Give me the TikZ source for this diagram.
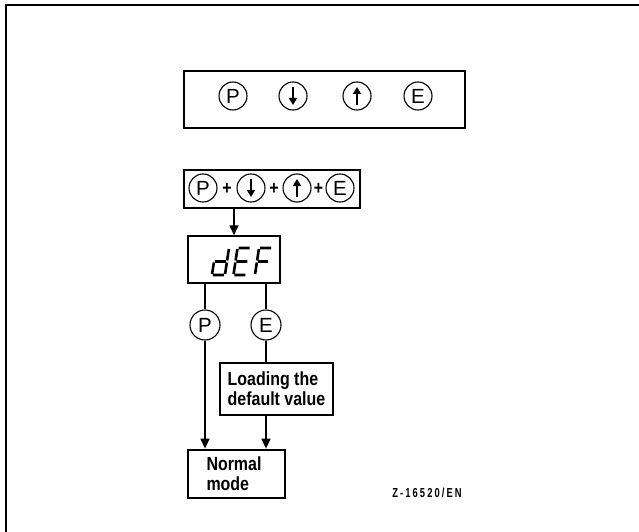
\documentclass[tikz,border=0pt]{standalone}
\usepackage{fontspec}
\setmainfont{Liberation Sans}
\newfontfamily\boxfont[FakeStretch=0.84]{Liberation Sans Bold}
\newfontfamily\codefont[FakeStretch=0.72,LetterSpace=16]{Liberation Sans Bold}
\usetikzlibrary{arrows.meta,positioning}

\tikzset{
  key/.style={circle,draw,line width=1.1pt,minimum size=28pt,inner sep=0pt,font=\fontsize{20.5}{20}\selectfont},
  keydn/.style={key,path picture={\draw[line width=2.2pt,-{Triangle[length=7pt,width=8pt]}]
      ([yshift=9pt]path picture bounding box.center)--([yshift=-9pt]path picture bounding box.center);}},
  keyup/.style={key,path picture={\draw[line width=2.2pt,-{Triangle[length=7pt,width=8pt]}]
      ([yshift=-9pt]path picture bounding box.center)--([yshift=9pt]path picture bounding box.center);}},
  frame/.style={draw,line width=2pt,inner sep=0pt},
  plus/.style={inner sep=0pt,font=\boxfont\fontsize{19}{19}\selectfont},
  txtbox/.style={draw,line width=2.8pt,align=left,font=\boxfont\fontsize{19}{20}\selectfont}
}

\begin{document}
\begin{tikzpicture}[x=1pt,y=-1pt,line width=1.5pt,>={Triangle[length=10pt,width=9pt]}]
  \useasboundingbox (0,0) rectangle (639,532);
  \draw[line width=1.2pt] (6,532)--(6,5)--(639,5);
  % panel de teclas
  \node[frame,minimum width=281pt,minimum height=57pt] (panel) at (324.5,99.5) {};
  \node[key] (pp) at (233,96) {P};
  \node[keydn] (pdn) at (293,96) {};
  \node[keyup] (pup) at (357,96) {};
  \node[key] (pe) at (418,96) {E};
  % combinacion P+abajo+arriba+E
  \node[frame,line width=1.4pt,minimum width=176pt,minimum height=38pt] (combo) at (272,189) {};
  \node[key] (cp) at (203,188) {P};
  \node[keydn] (cdn) at (251,188) {};
  \node[keyup] (cup) at (297,188) {};
  \node[key] (ce) at (340,188) {E};
  \node[plus] (plusa) at (227,188.5) {+};
  \node[plus] (plusb) at (274,188.5) {+};
  \node[plus] (plusc) at (318.5,188.5) {+};
  % display dEF
  \node[frame,line width=1.5pt,minimum width=92pt,minimum height=47pt] (def) at (234,259.5) {};
  \begin{scope}[line width=2.6pt]
    \begin{scope}[shift={(216,248)},xslant=0.15] % d
      \draw (13,1)--(13,12.5) (13,14.5)--(13,26) (1,27)--(12,27) (0,14.5)--(0,26) (1,13.5)--(12,13.5);
    \end{scope}
    \begin{scope}[shift={(237.5,248)},xslant=0.15] % E
      \draw (1,0)--(12,0) (1,27)--(12,27) (0,14.5)--(0,26) (0,1)--(0,12.5) (1,13.5)--(12,13.5);
    \end{scope}
    \begin{scope}[shift={(259,248)},xslant=0.15] % F
      \draw (1,0)--(12,0) (0,14.5)--(0,26) (0,1)--(0,12.5) (1,13.5)--(11,13.5);
    \end{scope}
  \end{scope}
  \draw[->] (def.north |- combo.south) -- (def.north);
  % ramas P y E
  \node[key,minimum size=30pt] (bp) at (205,325) {P};
  \node[key,minimum size=30pt] (be) at (266,325) {E};
  \draw (bp |- def.south) -- (bp);
  \draw (be |- def.south) -- (be);
  \node[txtbox,minimum width=113pt,minimum height=52pt] (load) at (276.5,389) {Loading the\\default value};
  \node[txtbox,text width=60pt,minimum width=97pt,minimum height=48pt] (normal) at (236.5,474) {Normal\\mode};
  \draw (be) -- (be |- load.north);
  \draw[->] (be |- load.south) -- (be |- normal.north);
  \draw[->] (bp) -- (bp |- normal.north);
  \node[font=\codefont\fontsize{13}{13}\selectfont] (code) at (427,493) {Z-16520/EN};
\end{tikzpicture}
\end{document}
